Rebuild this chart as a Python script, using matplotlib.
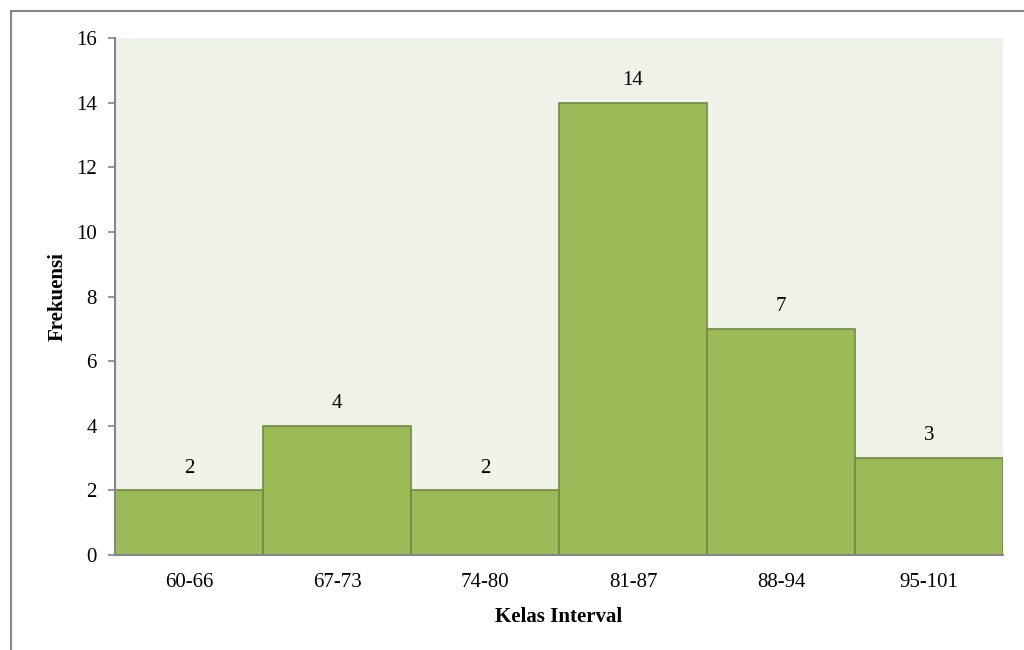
import matplotlib.pyplot as plt
from matplotlib.lines import Line2D

# frequency table
kelas = ['60-66', '67-73', '74-80', '81-87', '88-94', '95-101']
frekuensi = [2, 4, 2, 14, 7, 3]
y_ticks = [0, 2, 4, 6, 8, 10, 12, 14, 16]

plt.rcParams['font.family'] = ['Liberation Serif', 'DejaVu Serif']
fs = 15

fig = plt.figure(figsize=(10.24, 6.5), dpi=100)
ax = fig.add_axes([115 / 1024, 95 / 650, 888 / 1024, 517 / 650])
ax.set_facecolor('#EFF2E9')

x = list(range(len(kelas)))
bars = ax.bar(x, frekuensi, width=1.0, color='#9BBB59', edgecolor='#71893F', linewidth=1.2, zorder=2)
for xi, v in zip(x, frekuensi):
    ax.annotate(str(v), (xi, v), xytext=(0, 16), textcoords='offset points',
                ha='center', va='center', fontsize=fs)

ax.set_xlim(-0.5, len(kelas) - 0.5)
ax.set_ylim(0, 16)
ax.set_yticks(y_ticks)
ax.set_xticks(x)
ax.set_xticklabels(kelas)
ax.tick_params(axis='x', length=0, pad=13, labelsize=fs)
ax.tick_params(axis='y', length=5, width=1.2, color='#868686', pad=8, labelsize=fs)

for s in ['top', 'right']:
    ax.spines[s].set_visible(False)
for s in ['left', 'bottom']:
    ax.spines[s].set_color('#868686')
    ax.spines[s].set_linewidth(1.5)
    ax.spines[s].set_zorder(3)

ax.set_xlabel('Kelas Interval', fontsize=fs, fontweight='bold', labelpad=11)
ax.set_ylabel('Frekuensi', fontsize=fs, fontweight='bold', labelpad=6)

# chart frame (runs off the right and bottom edges)
fig.add_artist(Line2D([10.5 / 1024, 1.0], [1 - 10.5 / 650, 1 - 10.5 / 650],
                      transform=fig.transFigure, color='#868686', lw=1.5))
fig.add_artist(Line2D([10.5 / 1024, 10.5 / 1024], [0, 1 - 10.5 / 650],
                      transform=fig.transFigure, color='#868686', lw=1.5))

fig.savefig('out.png', dpi=100)
